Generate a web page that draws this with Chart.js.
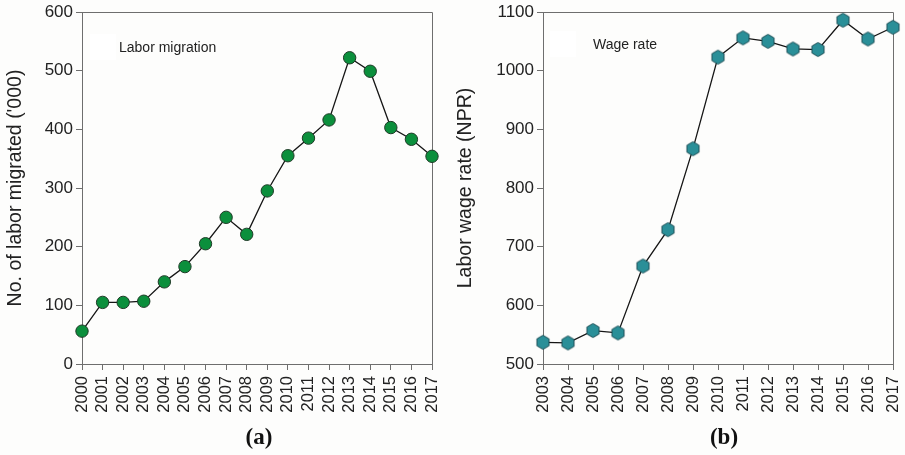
<!DOCTYPE html>
<html>
<head>
<meta charset="utf-8">
<script src="https://cdn.jsdelivr.net/npm/chart.js@4.4.1/dist/chart.umd.min.js"></script>
<style>
  html, body { margin: 0; padding: 0; background: #fdfdfc; }
  #wrap { position: relative; width: 905px; height: 455px; overflow: hidden; }
  .panel { position: absolute; top: 0; height: 455px; }
  #pa { left: 0; width: 450px; }
  #pb { left: 450px; width: 455px; }
</style>
</head>
<body>
<div id="wrap">
  <div class="panel" id="pa"><canvas id="ca"></canvas></div>
  <div class="panel" id="pb"><canvas id="cb"></canvas></div>
</div>
<script>
// Labor migration, thousands of workers per year
const migrationYears = ['2000','2001','2002','2003','2004','2005','2006','2007','2008',
                        '2009','2010','2011','2012','2013','2014','2015','2016','2017'];
const migrationValues = [56, 105, 105, 107, 140, 166, 205, 250, 221,
                         295, 355, 385, 416, 522, 499, 403, 383, 354];

// Daily labor wage rate in NPR
const wageYears = ['2003','2004','2005','2006','2007','2008','2009','2010',
                   '2011','2012','2013','2014','2015','2016','2017'];
const wageValues = [537, 536, 557, 553, 667, 729, 867, 1023,
                    1056, 1050, 1037, 1036, 1086, 1054, 1074];

const migrationTicks = { min: 0, max: 600, step: 100 };
const wageTicks = { min: 500, max: 1100, step: 100 };

const FONT = "'Liberation Sans', Arial, Helvetica, sans-serif";
const AXIS = '#6e6e6e';
const TEXT = '#222222';

// hexagon marker (pointy top) for the wage series
function hexMarker(r, fill, stroke) {
  const size = Math.ceil(r * 2 + 3);
  const c = document.createElement('canvas');
  c.width = size; c.height = size;
  const g = c.getContext('2d');
  const cx = size / 2, cy = size / 2;
  g.beginPath();
  for (let i = 0; i < 6; i++) {
    const a = Math.PI / 2 + i * Math.PI / 3;
    const x = cx + r * Math.cos(a), y = cy - r * Math.sin(a);
    if (i === 0) g.moveTo(x, y); else g.lineTo(x, y);
  }
  g.closePath();
  g.fillStyle = fill; g.fill();
  g.lineWidth = 1; g.strokeStyle = stroke; g.stroke();
  return c;
}

// frame around the plot area, inline legend text, and panel letter
const panelDecor = {
  id: 'panelDecor',
  beforeDatasetsDraw(chart, args, o) {
    const { ctx, chartArea: a } = chart;
    ctx.save();
    ctx.strokeStyle = AXIS; ctx.lineWidth = 1;
    ctx.beginPath();
    ctx.moveTo(Math.round(a.left) + 0.5, Math.round(a.top) + 0.5);
    ctx.lineTo(Math.round(a.right) + 0.5, Math.round(a.top) + 0.5);
    ctx.lineTo(Math.round(a.right) + 0.5, Math.round(a.bottom) + 0.5);
    ctx.stroke();
    // legend box
    ctx.fillStyle = '#ffffff';
    ctx.fillRect(o.boxX, o.boxY, 26, 26);
    ctx.fillStyle = TEXT;
    ctx.font = '14px ' + FONT;
    ctx.textBaseline = 'middle';
    ctx.textAlign = 'left';
    ctx.fillText(o.legend, o.legendX, o.legendY);
    // panel letter
    ctx.font = 'bold 23px "Liberation Serif", "Times New Roman", serif';
    ctx.textAlign = 'center';
    ctx.fillStyle = '#111';
    ctx.fillText(o.letter, o.letterX, o.letterY);
    ctx.restore();
  }
};

function makePanel(id, labels, values, ticks, yTitle, axisWidth, padRight, point, decor) {
  return new Chart(document.getElementById(id), {
    type: 'line',
    data: {
      labels: labels,
      datasets: [{
        data: values,
        borderColor: '#151515',
        borderWidth: 1.3,
        tension: 0,
        clip: false,
        ...point
      }]
    },
    options: {
      responsive: true,
      maintainAspectRatio: false,
      animation: false,
      layout: { padding: { top: 12, right: padRight, bottom: 0, left: 0 } },
      plugins: {
        legend: { display: false },
        tooltip: { enabled: false },
        panelDecor: decor
      },
      scales: {
        x: {
          type: 'category',
          offset: false,
          afterFit(s) { s.height = 91; s.paddingLeft = 0; s.paddingRight = 0; },
          grid: { drawOnChartArea: false, drawTicks: true, tickLength: 6, color: AXIS },
          border: { display: true, color: AXIS, width: 1 },
          ticks: {
            autoSkip: false, minRotation: 90, maxRotation: 90, padding: 6,
            color: TEXT, font: { family: FONT, size: 16.5 }
          }
        },
        y: {
          min: ticks.min, max: ticks.max,
          afterFit(s) { s.width = axisWidth; s.paddingTop = 0; s.paddingBottom = 0; },
          grid: { drawOnChartArea: false, drawTicks: true, tickLength: 6, color: AXIS },
          border: { display: true, color: AXIS, width: 1 },
          ticks: {
            stepSize: ticks.step, padding: 3,
            callback: (v) => String(v),
            color: TEXT, font: { family: FONT, size: 17 }
          },
          title: {
            display: true, text: yTitle, color: TEXT,
            font: { family: FONT, size: 19.5 },
            padding: { top: 4, bottom: 0 }
          }
        }
      }
    },
    plugins: [panelDecor]
  });
}

makePanel('ca', migrationYears, migrationValues, migrationTicks,
  "No. of labor migrated ('000)", 82, 18,
  { pointStyle: 'circle', pointRadius: 6.2, pointBackgroundColor: '#0b8f3c',
    pointBorderColor: '#1f3b27', pointBorderWidth: 1 },
  { legend: 'Labor migration', legendX: 119, legendY: 48, boxX: 90, boxY: 34,
    letter: '(a)', letterX: 259, letterY: 438 });

makePanel('cb', wageYears, wageValues, wageTicks,
  'Labor wage rate (NPR)', 93, 12,
  { pointStyle: hexMarker(7, '#2a8f98', '#1c4e55'), pointRadius: 7 },
  { legend: 'Wage rate', legendX: 143, legendY: 45, boxX: 100, boxY: 31,
    letter: '(b)', letterX: 274, letterY: 438 });
</script>
</body>
</html>
